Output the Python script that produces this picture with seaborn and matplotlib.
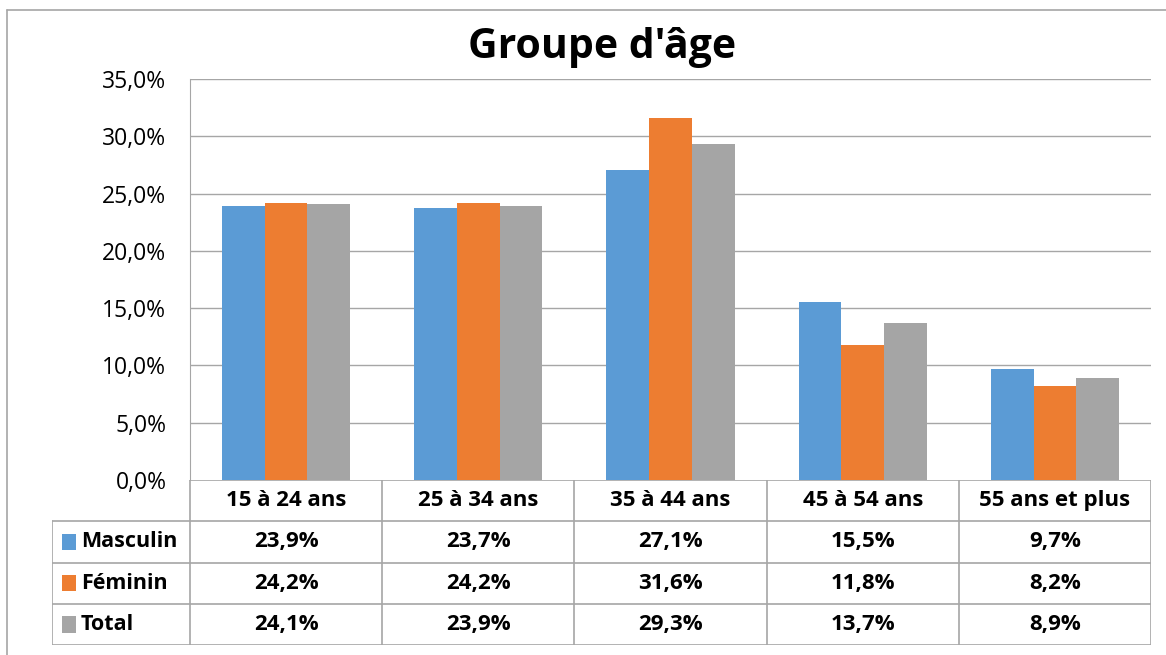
import pandas as pd
import seaborn as sns
import matplotlib.pyplot as plt
from matplotlib.lines import Line2D
from matplotlib.patches import Rectangle

# Data
categories = ['15 à 24 ans', '25 à 34 ans', '35 à 44 ans', '45 à 54 ans', '55 ans et plus']
series = ['Masculin', 'Féminin', 'Total']
masculin = [23.9, 23.7, 27.1, 15.5, 9.7]
feminin = [24.2, 24.2, 31.6, 11.8, 8.2]
total = [24.1, 23.9, 29.3, 13.7, 8.9]
colors = ['#5B9BD5', '#ED7D31', '#A5A5A5']
yticks = [0, 5, 10, 15, 20, 25, 30, 35]

values = {'Masculin': masculin, 'Féminin': feminin, 'Total': total}
df = pd.DataFrame({
    'age': categories * 3,
    'serie': [s for s in series for _ in categories],
    'pct': masculin + feminin + total,
})

sns.set_style('white')
plt.rcParams['font.family'] = ['Open Sans', 'DejaVu Sans']
plt.rcParams['text.color'] = 'black'
plt.rcParams['ytick.color'] = 'black'

W, H = 1166, 655
fig = plt.figure(figsize=(W / 100, H / 100), dpi=100)
grid_col = '#A6A6A6'

# bar axes
ax = fig.add_axes([190 / W, 1 - 480 / H, (1151 - 190) / W, (480 - 79) / H])
sns.barplot(data=df, x='age', y='pct', hue='serie', hue_order=series,
            palette=colors, width=0.667, gap=0, saturation=1,
            edgecolor='none', legend=False, ax=ax)
ax.set_xlim(-0.5, 4.5)
ax.set_ylim(0, 35)
ax.set_yticks(yticks)
ax.set_yticklabels([f'{v:.1f}%'.replace('.', ',') for v in yticks], fontsize=16.5)
ax.set_xticks([])
ax.set_xlabel('')
ax.set_ylabel('')
ax.tick_params(axis='y', length=0, pad=17)
for y in yticks[1:]:
    ax.axhline(y, color=grid_col, lw=1, zorder=0)
for side in ['top', 'right', 'bottom']:
    ax.spines[side].set_visible(False)
ax.spines['left'].set_color(grid_col)
ax.set_axisbelow(True)

# data table below the plot
left_px = 52
tab = fig.add_axes([left_px / W, 1 - 645 / H, (1151 - left_px) / W, (645 - 480) / H])
x0 = -0.5 - (190 - left_px) / ((1151 - 190) / 5)
tab.set_xlim(x0, 4.5)
tab.set_ylim(4, 0)
tab.axis('off')
lk = dict(color=grid_col, lw=1.2)
# header row
tab.plot([-0.5, 4.5], [0, 0], **lk)
for i in range(6):
    tab.plot([i - 0.5, i - 0.5], [0, 4], **lk)
for r in range(1, 5):
    tab.plot([x0, 4.5], [r, r], **lk)
tab.plot([x0, x0], [1, 4], **lk)
for i, c in enumerate(categories):
    tab.text(i, 0.5, c, ha='center', va='center', fontsize=16, fontweight='bold')
unit = (1151 - 190) / 5
for r, s in enumerate(series):
    yc = r + 1.5
    tab.add_patch(Rectangle((x0 + 10 / unit, yc - 0.2), 14 / unit, 0.4,
                            color=colors[r], lw=0))
    tab.text(x0 + 29 / unit, yc, s, ha='left', va='center', fontsize=15.5, fontweight='bold')
    for i, v in enumerate(values[s]):
        tab.text(i, yc, f'{v:.1f}%'.replace('.', ','), ha='center', va='center',
                 fontsize=16, fontweight='bold')

# title
fig.text(602 / W, 1 - 47 / H, "Groupe d'âge", ha='center', va='center',
         fontsize=29.5, fontweight='bold')

# outer frame
fig.add_artist(Line2D([7 / W, 7 / W], [0, 1 - 10 / H], color=grid_col, lw=1.2))
fig.add_artist(Line2D([7 / W, 1], [1 - 10 / H, 1 - 10 / H], color=grid_col, lw=1.2))

fig.savefig('out.png', dpi=100)
